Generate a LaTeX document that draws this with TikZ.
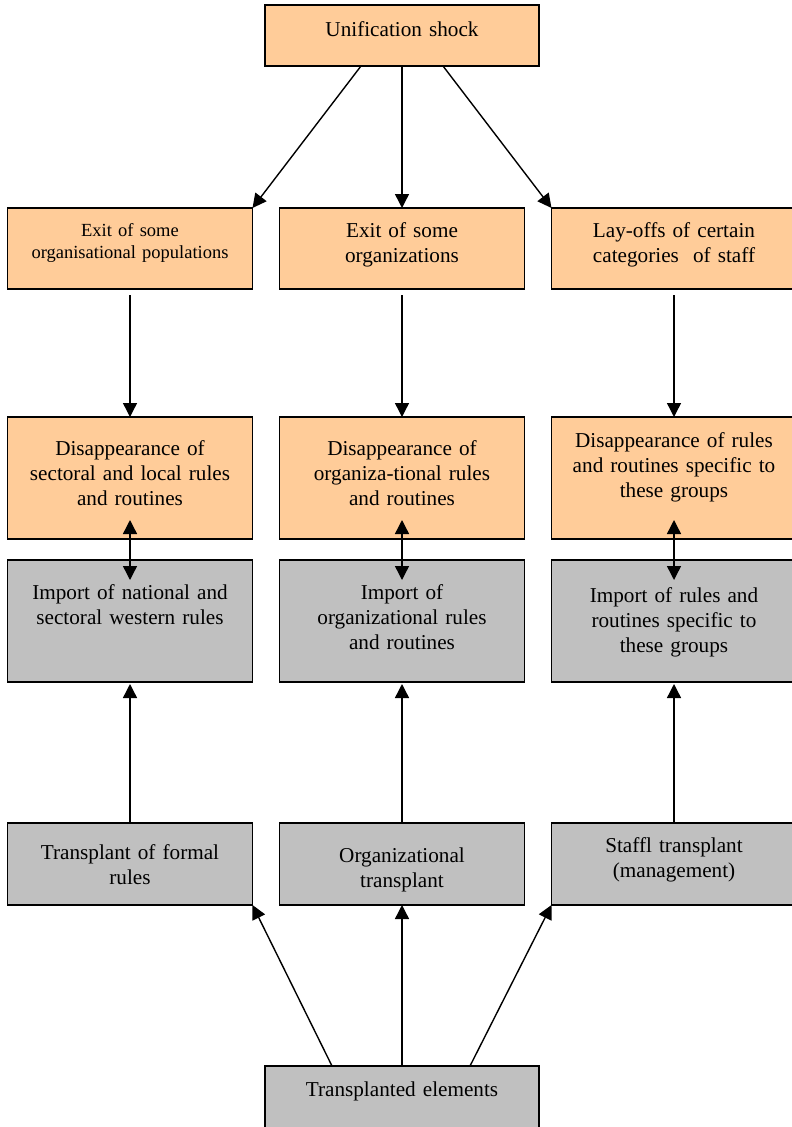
\documentclass[tikz,border=0pt]{standalone}
\usepackage{fontspec}
\setmainfont{Liberation Serif}
\usetikzlibrary{positioning,arrows.meta}
\definecolor{peach}{HTML}{FFCC99}
\definecolor{silver}{HTML}{C0C0C0}

\begin{document}
\begin{tikzpicture}[x=1pt, y=-1pt, line width=1.4pt,
		>={Triangle[width=14pt,length=14pt]},
		box/.style={draw, inner sep=0pt, outer sep=0pt, minimum width=245pt,
			text width=235pt, align=center, font=\fontsize{21.2}{25}\selectfont},
		upperbox/.style={box, fill=peach},
		lowerbox/.style={box, fill=silver}]
		\useasboundingbox (0,0) rectangle (792,1127);
		\clip (0,0) rectangle (792,1127);
		% losses
		\node (shock) [upperbox, minimum width=274pt, text height=31pt, text depth=30pt] at (402,35.5) {Unification shock};
		\node (exit2) [upperbox, text height=29pt, text depth=52pt, below=142pt of shock] {Exit of some\\organizations};
		\node (exit1) [upperbox, text height=28pt, text depth=53pt, font=\fontsize{18.5}{22}\selectfont, left=27pt of exit2] {Exit of some\\organisational populations};
		\node (exit3) [upperbox, text height=29pt, text depth=52pt, right=27pt of exit2] {Lay-offs of certain\\categories\ \ of staff};
		\node (disp1) [upperbox, text height=38pt, text depth=84pt, below=128pt of exit1] {Disappearance of\\sectoral and local rules\\and routines};
		\node (disp2) [upperbox, text height=38pt, text depth=84pt, below=128pt of exit2] {Disappearance of\\organiza-tional rules\\and routines};
		\node (disp3) [upperbox, text height=30pt, text depth=92pt, below=128pt of exit3] {Disappearance of rules\\and routines specific to\\these groups};
		% imports
		\node (imp1) [lowerbox, text height=39pt, text depth=83pt, below=21pt of disp1] {Import of national and\\sectoral western rules};
		\node (imp2) [lowerbox, text height=39pt, text depth=83pt, below=21pt of disp2] {Import of\\organizational rules\\and routines};
		\node (imp3) [lowerbox, text height=42pt, text depth=80pt, below=21pt of disp3] {Import of rules and\\routines specific to\\these groups};
		\node (tr1) [lowerbox, text height=36pt, text depth=46pt, below=141pt of imp1] {Transplant of formal\\rules};
		\node (tr2) [lowerbox, text height=39pt, text depth=43pt, below=141pt of imp2] {Organizational\\transplant};
		\node (tr3) [lowerbox, text height=29pt, text depth=53pt, below=141pt of imp3] {Staffl transplant\\(management)};
		\node (elem) [lowerbox, minimum width=274pt, text height=30pt, text depth=36pt, below=161pt of tr2] {Transplanted elements};
		\path[->]
		([xshift=-41pt]shock.south) edge (exit1.north east)
		(shock) edge (exit2)
		([xshift=41pt]shock.south) edge (exit3.north west)
		(exit1) edge [shorten <=6pt] (disp1)
		(exit2) edge [shorten <=6pt] (disp2)
		(exit3) edge [shorten <=6pt] (disp3)
		(tr1) edge [shorten >=2pt] (imp1)
		(tr2) edge [shorten >=2pt] (imp2)
		(tr3) edge [shorten >=2pt] (imp3)
		([xshift=-70pt]elem.north) edge (tr1.south east)
		(elem) edge (tr2)
		([xshift=68pt]elem.north) edge (tr3.south west);
		\path[<->]
		([yshift=19pt]disp1.south) edge ([yshift=-20pt]imp1.north)
		([yshift=19pt]disp2.south) edge ([yshift=-20pt]imp2.north)
		([yshift=19pt]disp3.south) edge ([yshift=-20pt]imp3.north);
	\end{tikzpicture}
\end{document}
